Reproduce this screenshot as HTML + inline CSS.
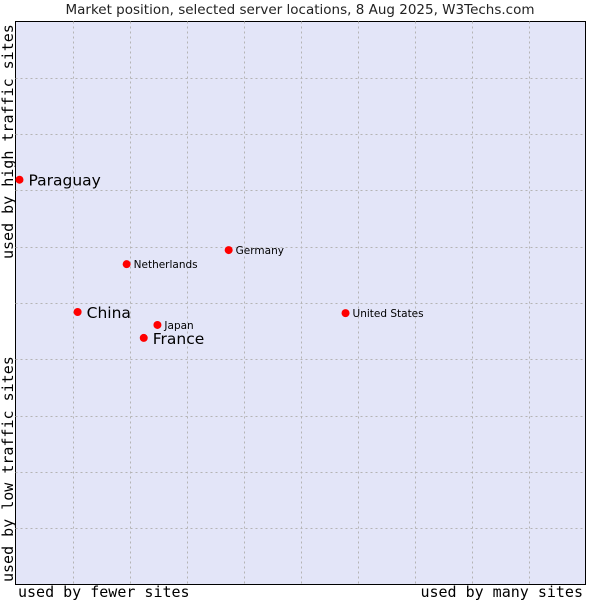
<!DOCTYPE html>
<html><head><meta charset="utf-8"><style>
body{margin:0;background:#fff;width:600px;height:600px;overflow:hidden}
svg{display:block}
</style></head><body>
<svg id="c" width="600" height="600">
<text x="300" y="14" text-anchor="middle" font-family="DejaVu Sans, sans-serif" font-size="13.5" fill="#222">Market position, selected server locations, 8 Aug 2025, W3Techs.com</text>
<rect x="15.5" y="21.5" width="570" height="563" fill="#e3e5f8" stroke="#000" stroke-width="1"/>
<g id="grid"></g>
<text x="18" y="597" font-family="DejaVu Sans Mono, monospace" font-size="15" fill="#000">used by fewer sites</text>
<text x="583" y="597" text-anchor="end" font-family="DejaVu Sans Mono, monospace" font-size="15" fill="#000">used by many sites</text>
<text transform="translate(13,259) rotate(-90)" font-family="DejaVu Sans Mono, monospace" font-size="15" fill="#000">used by high traffic sites</text>
<text transform="translate(13,582) rotate(-90)" font-family="DejaVu Sans Mono, monospace" font-size="15" fill="#000">used by low traffic sites</text>
<g id="pts"></g>
</svg>
<script>
const names=["Paraguay","China","France","Netherlands","Japan","Germany","United States"];
const xs=[0.7,10.9,22.5,19.5,24.9,37.4,57.9];
const ys=[71.9,48.4,43.8,56.9,46.1,59.4,48.2];
const big=[true,true,true,false,false,false,false];
const L=15.5,T=21.5,W=570,H=563;
const sx=v=>L+v/100*W, sy=v=>T+H-v/100*H;
const NS="http://www.w3.org/2000/svg";
const g=document.getElementById('grid');
for(let i=1;i<10;i++){
  const v=document.createElementNS(NS,'line');
  
  
  const x=Math.round(sx(i*10))+0.5;
  v.setAttribute('x1',x);v.setAttribute('x2',x);v.setAttribute('y1',T);v.setAttribute('y2',T+H);
  v.setAttribute('stroke','#b4b4b4');v.setAttribute('stroke-dasharray','2,3');g.appendChild(v);
  const h=document.createElementNS(NS,'line');
  
  
  const y=Math.round(sy(i*10))+0.5;
  h.setAttribute('x1',L);h.setAttribute('x2',L+W);h.setAttribute('y1',y);h.setAttribute('y2',y);
  h.setAttribute('stroke','#b4b4b4');h.setAttribute('stroke-dasharray','2,3');g.appendChild(h);
}
const p=document.getElementById('pts');
names.forEach((n,i)=>{
  const cx=sx(xs[i]),cy=sy(ys[i]);
  const c=document.createElementNS(NS,'circle');
  
  
  c.setAttribute('cx',cx);c.setAttribute('cy',cy);c.setAttribute('r',4);c.setAttribute('fill','#f00');
  p.appendChild(c);
  const t=document.createElementNS(NS,'text');
  
  
  t.setAttribute('x',cx+(big[i]?9:7));t.setAttribute('y',cy+(big[i]?6:4));
  t.setAttribute('font-family','DejaVu Sans, sans-serif');
  t.setAttribute('font-size',big[i]?15.5:10.5);t.setAttribute('fill','#000');
  t.textContent=n;p.appendChild(t);
});
</script>
</body></html>
